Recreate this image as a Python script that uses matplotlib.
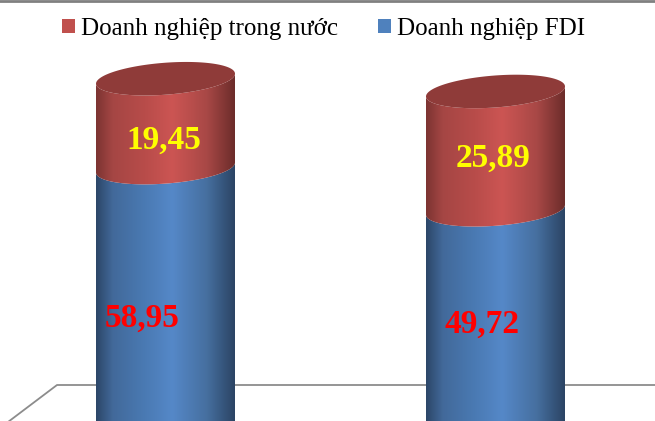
import numpy as np
import matplotlib
matplotlib.use('Agg')
import matplotlib.pyplot as plt
from matplotlib.colors import LinearSegmentedColormap
from matplotlib.patches import Patch, Polygon

series_names = ['Doanh nghiệp trong nước', 'Doanh nghiệp FDI']
fdi = [58.95, 49.72]
domestic = [19.45, 25.89]
fdi_labels = ['58,95', '49,72']
domestic_labels = ['19,45', '25,89']

plt.rcParams['font.family'] = ['Liberation Serif', 'DejaVu Serif']

#pixel scale of the picture, the baseline of the columns falls below the bottom edge
px_x = 1 / 330
px_y = 1 / 4.57
base_px = 437
half_w = 69.5
ell_h = 16
skew = 10 / 139

blue_grad = LinearSegmentedColormap.from_list('b', [(0, '#2c4668'), (0.12, '#42699a'), (0.35, '#4a7ab3'),
                                                    (0.55, '#5588c8'), (0.8, '#466f9f'), (1, '#2b4464')])
red_grad = LinearSegmentedColormap.from_list('r', [(0, '#7c3432'), (0.12, '#a54644'), (0.35, '#b84c4a'),
                                                   (0.55, '#cc5553'), (0.8, '#a84846'), (1, '#6c2c2a')])

fig = plt.figure(figsize=(6.55, 4.21), dpi=100)
ax = fig.add_axes([0, 0, 1, 1])
ax.axis('off')


def lower_arc(cx, v, n=80):
    t = np.linspace(np.pi, 2 * np.pi, n)
    dx = half_w * np.cos(t)
    dy = ell_h * np.sin(t) + skew * dx
    return cx + dx * px_x, v + dy * px_y


def segment(cx, v0, v1, cmap):
    x0, y0 = lower_arc(cx, v0)
    x1, y1 = lower_arc(cx, v1)
    poly = Polygon(np.column_stack([np.r_[x1, x0[::-1]], np.r_[y1, y0[::-1]]]), closed=True,
                   facecolor='none', edgecolor='none')
    ax.add_patch(poly)
    im = ax.imshow(np.linspace(0, 1, 256)[None, :], cmap=cmap, aspect='auto', zorder=3,
                   extent=[cx - half_w * px_x, cx + half_w * px_x, v0 - 40 * px_y, v1 + 40 * px_y])
    im.set_clip_path(poly)


def top_face(cx, v, color):
    t = np.linspace(0, 2 * np.pi, 160)
    dx = half_w * np.cos(t)
    dy = ell_h * np.sin(t) + skew * dx
    ax.fill(cx + dx * px_x, v + dy * px_y, color=color, lw=0, zorder=4)


def px_to_data(x, y):
    return (x - 165.5) * px_x, (base_px - y) * px_y


#floor of the 3d chart and grey strip at the top
fx, fy = zip(px_to_data(8, 422), px_to_data(57, 385), px_to_data(655, 385))
ax.plot(fx, fy, color='#8c8c8c', lw=1.3, zorder=1)
sx, sy = zip(px_to_data(0, 1), px_to_data(655, 1))
ax.plot(sx, sy, color='#808080', lw=2, zorder=1)

for i in range(2):
    segment(i, 0, fdi[i], blue_grad)
    segment(i, fdi[i], fdi[i] + domestic[i], red_grad)
    top_face(i, fdi[i] + domestic[i], '#8f3b39')

#labels were moved by hand in the original
fdi_pos = [(142, 318.5), (482.5, 324.5)]
dom_pos = [(164, 140.5), (493, 158.5)]
for i in range(2):
    x, y = px_to_data(*fdi_pos[i])
    ax.text(x, y, fdi_labels[i], color='#ff0000', fontsize=24, fontweight='bold',
            ha='center', va='center', zorder=5)
    x, y = px_to_data(*dom_pos[i])
    ax.text(x, y, domestic_labels[i], color='#ffff00', fontsize=24, fontweight='bold',
            ha='center', va='center', zorder=5)

ax.set_xlim(-165.5 * px_x, (655 - 165.5) * px_x)
ax.set_ylim((base_px - 421) * px_y, base_px * px_y)

handles = [Patch(color='#c0504d', lw=0), Patch(color='#4f81bd', lw=0)]
ax.legend(handles, series_names, ncol=2, loc='upper left', bbox_to_anchor=(0.0835, 0.976), frameon=False,
          fontsize=18, handlelength=0.5, handleheight=0.5, handletextpad=0.25, columnspacing=1.62,
          borderaxespad=0, borderpad=0.3)

fig.savefig('out.png', dpi=100)
